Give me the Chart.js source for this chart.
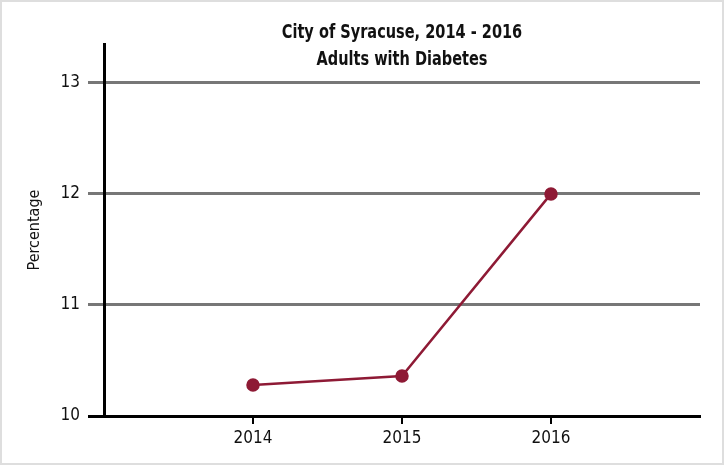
<!DOCTYPE html>
<html>
<head>
<meta charset="utf-8">
<script src="https://cdn.jsdelivr.net/npm/chart.js@4.4.1/dist/chart.umd.min.js"></script>
<style>
  html, body { margin: 0; padding: 0; background: #fff; }
  #wrap { position: relative; width: 724px; height: 465px; box-shadow: inset 0 0 0 2px #dedede; }
  #chart { position: absolute; left: 0; top: 0; }
</style>
</head>
<body>
<div id="wrap"><canvas id="chart" width="724" height="465"></canvas></div>
<script>
const years = [2014, 2015, 2016];
const diabetesPct = [10.28, 10.36, 12.0];
const yTicks = [10, 11, 12, 13];
const titleLines = ['City of Syracuse, 2014 - 2016', 'Adults with Diabetes'];
const yLabel = 'Percentage';

const FONT = "'DejaVu Sans Condensed', 'Liberation Sans Narrow', 'Roboto', sans-serif";
const MAROON = '#8e1a35';

// title sits over the plot area, so draw it ourselves instead of letting it take layout space
// (squeezed a bit horizontally - the original uses a narrower face than we have)
const titlePlugin = {
    id: 'overTitle',
    afterDraw(chart) {
        const ctx = chart.ctx;
        ctx.save();
        ctx.fillStyle = '#111';
        ctx.font = 'bold 19px ' + FONT;
        ctx.textAlign = 'center';
        ctx.textBaseline = 'middle';
        ctx.translate(402, 0);
        ctx.scale(0.85, 1);
        titleLines.forEach((line, i) => ctx.fillText(line, 0, 33 + i * 27));
        ctx.restore();
    }
};

new Chart(document.getElementById('chart'), {
    type: 'line',
    data: {
        datasets: [{
            data: years.map((y, i) => ({ x: y, y: diabetesPct[i] })),
            borderColor: MAROON,
            backgroundColor: MAROON,
            borderWidth: 2.5,
            pointRadius: 5.5,
            pointHoverRadius: 5.5,
            tension: 0
        }]
    },
    plugins: [titlePlugin],
    options: {
        responsive: false,
        animation: false,
        layout: { padding: { top: 44, right: 24, left: 0, bottom: 0 } },
        plugins: {
            legend: { display: false },
            tooltip: { enabled: false }
        },
        scales: {
            x: {
                type: 'linear',
                min: years[0] - 1,
                max: years[years.length - 1] + 1,
                afterBuildTicks: scale => { scale.ticks = years.map(v => ({ value: v })); },
                afterFit: scale => { scale.height = 49; },
                ticks: {
                    stepSize: 1,
                    color: '#111',
                    padding: 4,
                    font: { family: FONT, size: 17 },
                    callback: v => String(v)
                },
                grid: {
                    drawOnChartArea: false,
                    drawTicks: true,
                    tickLength: 8,
                    color: '#000',
                    lineWidth: 2
                },
                border: { display: true, color: '#000', width: 3 }
            },
            y: {
                min: 10,
                max: 13.35,
                afterBuildTicks: scale => { scale.ticks = yTicks.map(v => ({ value: v })); },
                afterFit: scale => { scale.width = 104; },
                ticks: {
                    color: '#111',
                    padding: 8,
                    font: { family: FONT, size: 17 },
                    callback: v => String(v)
                },
                grid: {
                    drawTicks: true,
                    tickLength: 16,
                    color: ctx => ctx.tick && ctx.tick.value === 10 ? '#000' : '#777',
                    lineWidth: 3
                },
                border: { display: true, color: '#000', width: 3 },
                title: {
                    display: true,
                    text: yLabel,
                    color: '#111',
                    font: { family: FONT, size: 16 },
                    padding: { top: 25, bottom: 0 }
                }
            }
        }
    }
});
</script>
</body>
</html>
